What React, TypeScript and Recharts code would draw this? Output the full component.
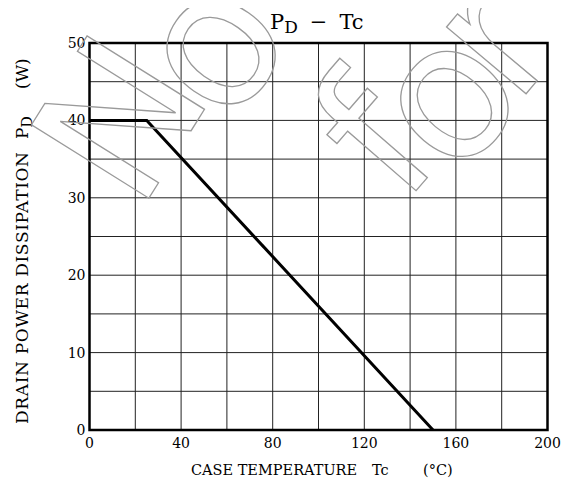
import React from 'react';
import { LineChart, Line, XAxis, YAxis, CartesianGrid, ReferenceArea } from 'recharts';

// Case temperature (°C) and drain power dissipation (W)
const temps = [0, 25, 150];
const power = [40, 40, 0];

const xTicks = [0, 20, 40, 60, 80, 100, 120, 140, 160, 180, 200];
const xLabelTicks = [0, 40, 80, 120, 160, 200];
const yTicks = [0, 5, 10, 15, 20, 25, 30, 35, 40, 45, 50];
const yLabelTicks = [0, 10, 20, 30, 40, 50];

const data = temps.map((t, i) => ({ t, p: power[i] }));

const W = 555;
const H = 476;
const FONT = '"DejaVu Serif", serif';
const WM = '"DejaVu Sans", sans-serif';

const wmStyle = { fill: 'none', stroke: '#9a9a9a', strokeWidth: 1.3, fontFamily: WM };

export default function App() {
  return (
    <div style={{ position: 'fixed', left: 8, top: 8, width: W, height: H, overflow: 'hidden', background: '#fff' }}>
      <LineChart width={W} height={H} data={data} margin={{ top: 35, right: 15.5, bottom: 24, left: 41.5 }}>
        <CartesianGrid stroke="#222" strokeWidth={1} />
        <XAxis
          type="number"
          dataKey="t"
          domain={[0, 200]}
          ticks={xTicks}
          interval={0}
          tickFormatter={(v: number) => (xLabelTicks.includes(v) ? String(v) : '')}
          tickLine={false}
          axisLine={false}
          tickSize={0}
          tickMargin={8}
          height={30}
          tick={{ fill: '#000', fontSize: 14, fontFamily: FONT }}
        />
        <YAxis
          type="number"
          dataKey="p"
          domain={[0, 50]}
          ticks={yTicks}
          interval={0}
          tickFormatter={(v: number) => (yLabelTicks.includes(v) ? String(v) : '')}
          tickLine={false}
          axisLine={false}
          tickSize={0}
          tickMargin={4}
          width={40}
          tick={{ fill: '#000', fontSize: 14, fontFamily: FONT }}
        />
        <ReferenceArea x1={0} x2={200} y1={0} y2={50} fill="none" fillOpacity={0} stroke="#000" strokeWidth={2.5} ifOverflow="visible" />
        <Line type="linear" dataKey="p" stroke="#000" strokeWidth={3} dot={false} isAnimationActive={false} />
      </LineChart>
      <svg width={W} height={H} style={{ position: 'absolute', left: 0, top: 0, pointerEvents: 'none' }}>
        <text x={262} y={20.5} fontSize={21} fontFamily={FONT} fill="#000">
          P<tspan dy={4} fontSize={17}>D</tspan>
          <tspan dy={-4} dx={12}>−</tspan>
          <tspan dx={12}>Tc</tspan>
        </text>
        <text y={467} fontSize={14.5} fontFamily={FONT} fill="#000">
          <tspan x={183}>CASE TEMPERATURE</tspan>
          <tspan x={364}>Tc</tspan>
          <tspan x={415}>(°C)</tspan>
        </text>
        <text transform="rotate(-90)" y={20} fontSize={17} fontFamily={FONT} fill="#000">
          <tspan x={-416} textLength={272} lengthAdjust="spacing">DRAIN POWER DISSIPATION</tspan>
          <tspan x={-131}>P</tspan>
          <tspan dy={4} fontSize={14}>D</tspan>
          <tspan x={-81} dy={-4}>(W)</tspan>
        </text>
        <g style={wmStyle as any}>
          <text transform="translate(113,111) rotate(-58)" textAnchor="middle" dominantBaseline="central" fontSize={190}>N</text>
          <text transform="translate(202,36) rotate(-55)" textAnchor="middle" dominantBaseline="central" fontSize={190}>o</text>
          <text transform="translate(367,130) rotate(-49)" textAnchor="middle" dominantBaseline="central" fontSize={190}>f</text>
          <text transform="translate(436,87) rotate(-50)" textAnchor="middle" dominantBaseline="central" fontSize={190}>o</text>
          <text transform="translate(482,27) rotate(-50)" textAnchor="middle" dominantBaseline="central" fontSize={190}>r</text>
        </g>
      </svg>
    </div>
  );
}
